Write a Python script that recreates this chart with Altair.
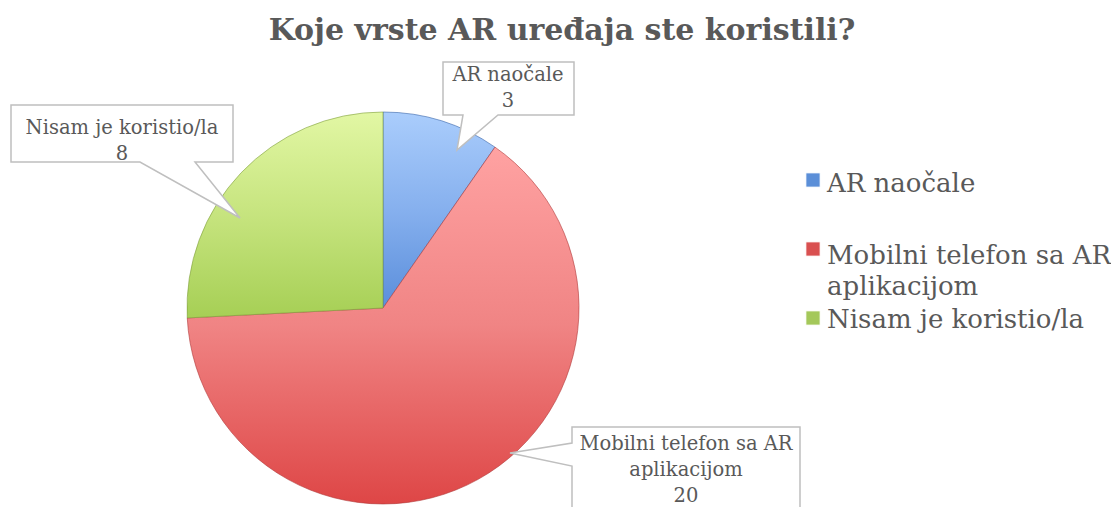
import altair as alt
import pandas as pd

# ---- data ----
categories = ["AR naočale", "Mobilni telefon sa AR aplikacijom", "Nisam je koristio/la"]
values = [3, 20, 8]
wrapped_names = ["AR naočale", "Mobilni telefon sa AR\naplikacijom", "Nisam je koristio/la"]
title_text = "Koje vrste AR uređaja ste koristili?"

# ---- styles / layout ----
FONT = "DejaVu Serif"
TXT = "#595959"
grad_top = ["#AACDFC", "#FFA2A2", "#E2F7A4"]
grad_mid = ["#86B0EE", "#F08484", "#C6E47E"]
grad_bot = ["#5A8EDB", "#DE4646", "#A6CF55"]
edge = ["#3A66A8", "#B03838", "#7E9E3C"]
legend_col = ["#5B8FD8", "#D95050", "#A4C85A"]
CX, CY, R = 375, 300, 196

# callout shapes (chart pixel coords), text anchors, legend anchors
callout_paths = [
    "M435,54 L566,54 L566,107 L490,107 L449,142 L455,107 L435,107 Z",
    "M564,419 L792,419 L792,540 L564,540 L564,458 L502,445 L564,435 Z",
    "M3,97 L225,97 L225,154 L187,154 L232,210 L132,154 L3,154 Z",
]
callout_xy = [(500, 58), (678, 427), (114, 111)]
legend_sq_y = [172, 241, 310]
legend_txt_y = [163, 235, 299]

df = pd.DataFrame({
    "category": categories,
    "value": values,
    "order": list(range(len(categories))),
    "wrapped": wrapped_names,
})
df["callout"] = df["wrapped"] + "\n" + df["value"].astype(str)
df["path"] = callout_paths
df["cx"] = [p[0] for p in callout_xy]
df["cy"] = [p[1] for p in callout_xy]
df["sy"] = legend_sq_y
df["ty"] = legend_txt_y
df["lcol"] = legend_col

base = (
    alt.Chart(df)
    .transform_window(cum="sum(value)", sort=[alt.SortField("order")])
    .transform_joinaggregate(total="sum(value)")
    .transform_calculate(
        t1="2*PI*(datum.cum-datum.value)/datum.total",
        t2="2*PI*datum.cum/datum.total",
    )
)

slices = []
for i, cat in enumerate(categories):
    g = alt.Gradient(
        gradient="linear",
        stops=[alt.GradientStop(color=grad_top[i], offset=0),
               alt.GradientStop(color=grad_mid[i], offset=0.5),
               alt.GradientStop(color=grad_bot[i], offset=1)],
        x1=0, x2=0, y1=0, y2=1,
    )
    slices.append(
        base.transform_filter(alt.datum.category == cat)
        .mark_arc(radius=R, fill=g, stroke=edge[i], strokeWidth=1, strokeOpacity=0.6)
        .encode(
            theta=alt.Theta("t1:Q", scale=None),
            theta2="t2:Q",
            x=alt.value(CX),
            y=alt.value(CY),
        )
    )

callout_box = alt.Chart(df).mark_point(
    filled=True, fill="white", stroke="#BFBFBF", strokeWidth=1.5, size=4, opacity=1
).encode(
    x=alt.value(0), y=alt.value(0),
    shape=alt.Shape("path:N", scale=None),
)

callout_text = alt.Chart(df).mark_text(
    font=FONT, fontSize=19.5, color=TXT, align="center", baseline="top",
    lineBreak="\n", lineHeight=26,
).encode(
    x=alt.X("cx:Q", scale=None), y=alt.Y("cy:Q", scale=None), text="callout:N"
)

legend_sq = alt.Chart(df).mark_point(
    shape="square", filled=True, size=200, opacity=1, strokeWidth=0.8, stroke="#ffffff"
).encode(
    x=alt.value(805), y=alt.Y("sy:Q", scale=None),
    fill=alt.Fill("lcol:N", scale=None),
)

legend_txt = alt.Chart(df).mark_text(
    font=FONT, fontSize=26, color=TXT, align="left", baseline="top",
    lineBreak="\n", lineHeight=31,
).encode(
    x=alt.value(819), y=alt.Y("ty:Q", scale=None), text="wrapped:N"
)

title = alt.Chart(pd.DataFrame({"t": [title_text]})).mark_text(
    font=FONT, fontSize=30, fontWeight="bold", color=TXT, align="center", baseline="middle"
).encode(x=alt.value(554), y=alt.value(23), text="t:N")

chart = alt.layer(*slices, callout_box, callout_text, legend_sq, legend_txt, title).properties(
    width=1103, height=499, padding=0, autosize=alt.AutoSizeParams(type="none"),
    background="white",
).configure_view(stroke=None)

chart.save("out.html", embed_options={"renderer": "svg", "actions": False})
